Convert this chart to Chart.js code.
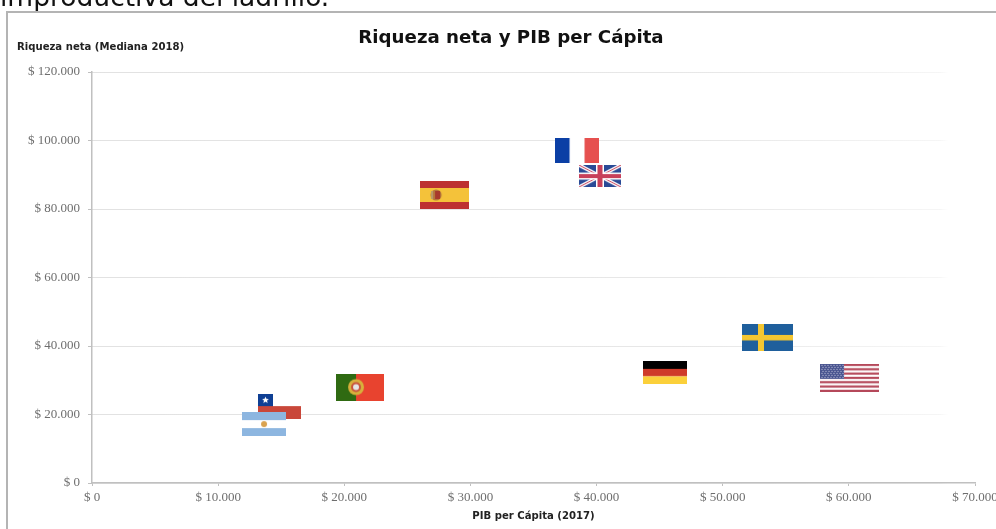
<!DOCTYPE html>
<html>
<head>
<meta charset="utf-8">
<script src="https://cdn.jsdelivr.net/npm/chart.js@4"></script>
<style>
  html, body { margin: 0; padding: 0; background: #fff; overflow: hidden; }
  #page { position: relative; width: 996px; height: 529px; overflow: hidden; filter: blur(0.45px); }
  #frase { position: absolute; left: 0; top: -19px; font: 26.5px "DejaVu Sans"; color: #111; white-space: nowrap; }
  #marco { position: absolute; left: 6px; top: 11px; width: 1000px; height: 600px; border: 2px solid #b4b4b4; }
  #titulo { position: absolute; left: 0; width: 1022px; top: 26px; text-align: center; font: bold 18.2px "DejaVu Sans"; color: #111; }
  #ejeY { position: absolute; left: 17px; top: 41px; font: bold 10.1px "DejaVu Sans"; color: #222; }
  canvas { position: absolute; left: 0; top: 0; }
</style>
</head>
<body>
<div id="page">
  <div id="frase">improductiva del ladrillo.</div>
  <div id="marco"></div>
  <canvas id="grafico" width="996" height="529"></canvas>
  <div id="titulo">Riqueza neta y PIB per Cápita</div>
  <div id="ejeY">Riqueza neta (Mediana 2018)</div>
</div>
<script>
// Datos
const paises = ['Chile', 'Argentina', 'Portugal', 'España', 'Francia', 'Reino Unido', 'Alemania', 'Suecia', 'EEUU'];
const pibPerCapita = [14860, 13640, 21250, 27950, 38450, 40270, 45420, 53550, 60050];
const riquezaNeta = [22300, 17200, 28000, 84100, 97100, 89600, 32300, 42500, 30700];
const ticksX = ['$ 0', '$ 10.000', '$ 20.000', '$ 30.000', '$ 40.000', '$ 50.000', '$ 60.000', '$ 70.000'];
const ticksY = ['$ 0', '$ 20.000', '$ 40.000', '$ 60.000', '$ 80.000', '$ 100.000', '$ 120.000'];

// Cada bandera es un canvas que se usa como pointStyle
function lienzo(w, h, dibujar) {
    const c = document.createElement('canvas');
    c.width = w;
    c.height = h;
    const ctx = c.getContext('2d');
    dibujar(ctx, w, h);
    return c;
}

function rect(ctx, color, x, y, w, h) {
    ctx.fillStyle = color;
    ctx.fillRect(x, y, w, h);
}

function estrella(ctx, cx, cy, r, color) {
    ctx.fillStyle = color;
    ctx.beginPath();
    for (let i = 0; i < 10; i++) {
        const a = -Math.PI / 2 + i * Math.PI / 5;
        const rr = i % 2 ? r * 0.45 : r;
        ctx.lineTo(cx + rr * Math.cos(a), cy + rr * Math.sin(a));
    }
    ctx.fill();
}

function escudo(ctx, cx, cy, r, color) {
    ctx.fillStyle = color;
    ctx.beginPath();
    ctx.arc(cx, cy, r, 0, Math.PI * 2);
    ctx.fill();
}

const banderas = {
    'Chile': lienzo(43, 25, (c, w, h) => {
        rect(c, '#fff', 0, 0, w, h);
        rect(c, '#c9473a', 0, 12, w, 13);
        rect(c, '#0f3f94', 0, 0, 15, 12);
        estrella(c, 7.5, 6, 3.6, '#fff');
    }),
    'Argentina': lienzo(44, 24, (c, w, h) => {
        rect(c, '#fff', 0, 0, w, h);
        rect(c, '#8db6e0', 0, 0, w, 8);
        rect(c, '#8db6e0', 0, 16, w, 8);
        escudo(c, 22, 12, 3, '#d9a24f');
    }),
    'Portugal': lienzo(48, 27, (c, w, h) => {
        rect(c, '#e8432f', 0, 0, w, h);
        rect(c, '#2f6a12', 0, 0, 20, h);
        escudo(c, 20, 13.5, 8, '#d8b03c');
        escudo(c, 20, 13.5, 5, '#c9543d');
        escudo(c, 20, 13.5, 3, '#e6e6e6');
    }),
    'España': lienzo(49, 28, (c, w, h) => {
        rect(c, '#bd3131', 0, 0, w, h);
        rect(c, '#f4c23a', 0, 7, w, 14);
        escudo(c, 16, 14, 5.5, '#b5763a');
        rect(c, '#a8392c', 15, 10, 5, 8);
        rect(c, '#b89a6a', 11, 10, 2, 8);
    }),
    'Francia': lienzo(44, 25, (c, w, h) => {
        rect(c, '#fff', 0, 0, w, h);
        rect(c, '#0b3fa5', 0, 0, 14.5, h);
        rect(c, '#e6504f', 29.5, 0, 14.5, h);
    }),
    'Reino Unido': lienzo(42, 22, (c, w, h) => {
        rect(c, '#2a4a96', 0, 0, w, h);
        c.strokeStyle = '#fff';
        c.lineWidth = 3.5;
        c.beginPath();
        c.moveTo(0, 0); c.lineTo(w, h);
        c.moveTo(w, 0); c.lineTo(0, h);
        c.stroke();
        c.strokeStyle = '#c8405a';
        c.lineWidth = 1;
        c.stroke();
        rect(c, '#fff', 17, 0, 8, h);
        rect(c, '#fff', 0, 7.5, w, 7);
        rect(c, '#c8405a', 18.5, 0, 5, h);
        rect(c, '#c8405a', 0, 9, w, 4);
    }),
    'Alemania': lienzo(44, 23, (c, w, h) => {
        rect(c, '#000', 0, 0, w, 8);
        rect(c, '#cf3a2a', 0, 8, w, 7.5);
        rect(c, '#fbd03a', 0, 15.5, w, 7.5);
    }),
    'Suecia': lienzo(51, 27, (c, w, h) => {
        rect(c, '#1f5f9c', 0, 0, w, h);
        rect(c, '#f4c631', 16, 0, 6, h);
        rect(c, '#f4c631', 0, 11, w, 5.5);
    }),
    'EEUU': lienzo(59, 28, (c, w, h) => {
        rect(c, '#fff', 0, 0, w, h);
        for (let i = 0; i < 7; i++) {
            rect(c, '#b5485a', 0, i * 4.31, w, 2.15);
        }
        rect(c, '#4a5590', 0, 0, 24, 15);
        for (let f = 0; f < 7; f++) {
            for (let k = 0; k < 8; k++) {
                rect(c, '#c9cce0', 1.5 + k * 3 + (f % 2), 1 + f * 2, 1, 1);
            }
        }
    })
};

const puntos = pibPerCapita.map((x, i) => ({ x: x, y: riquezaNeta[i] }));

// Las lineas de la reticula se desvanecen hacia la derecha
const ctxGrafico = document.getElementById('grafico').getContext('2d');
const colorReticula = ctxGrafico.createLinearGradient(92, 0, 975, 0);
colorReticula.addColorStop(0, '#c4c4c4');
colorReticula.addColorStop(0.7, '#d0d0d0');
colorReticula.addColorStop(0.96, '#ececec');
colorReticula.addColorStop(0.97, '#ffffff');

new Chart(ctxGrafico, {
    type: 'scatter',
    data: {
        datasets: [{
            label: 'Riqueza neta',
            data: puntos,
            pointStyle: paises.map(p => banderas[p]),
            pointRadius: 10,
            pointHoverRadius: 10,
            showLine: false
        }]
    },
    options: {
        responsive: false,
        animation: false,
        events: [],
        layout: { padding: { left: 0, top: 72, right: 21, bottom: 0 } },
        plugins: {
            legend: { display: false },
            title: { display: false },
            tooltip: { enabled: false }
        },
        scales: {
            x: {
                type: 'linear',
                min: 0,
                max: 70000,
                afterFit: s => { s.height = 46; s.paddingLeft = 0; s.paddingRight = 0; },
                afterBuildTicks: s => { s.ticks = ticksX.map((_, i) => ({ value: i * 10000 })); },
                grid: { drawOnChartArea: false, tickColor: '#c0c0c0', tickLength: 3 },
                border: { color: '#c0c0c0', width: 1.5 },
                title: {
                    display: true,
                    text: 'PIB per Cápita (2017)',
                    color: '#222',
                    font: { family: 'DejaVu Sans', size: 10.1, weight: 'bold' },
                    padding: { top: 4, bottom: 7 }
                },
                ticks: {
                    autoSkip: false,
                    maxRotation: 0,
                    color: '#6e6e6e',
                    padding: 4,
                    font: { family: 'Liberation Serif', size: 13 },
                    callback: (v, i) => ticksX[i]
                }
            },
            y: {
                min: 0,
                max: 120000,
                afterFit: s => { s.width = 92; s.paddingTop = 0; s.paddingBottom = 0; },
                afterBuildTicks: s => { s.ticks = ticksY.map((_, i) => ({ value: i * 20000 })); },
                grid: {
                    color: colorReticula,
                    lineWidth: 1,
                    tickColor: '#c0c0c0',
                    tickLength: 4,
                    tickBorderDash: []
                },
                border: { color: '#c0c0c0', width: 1.5, dash: [1, 1] },
                ticks: {
                    autoSkip: false,
                    color: '#6e6e6e',
                    padding: 8,
                    font: { family: 'Liberation Serif', size: 13 },
                    callback: (v, i) => ticksY[i]
                }
            }
        }
    }
});
</script>
</body>
</html>
